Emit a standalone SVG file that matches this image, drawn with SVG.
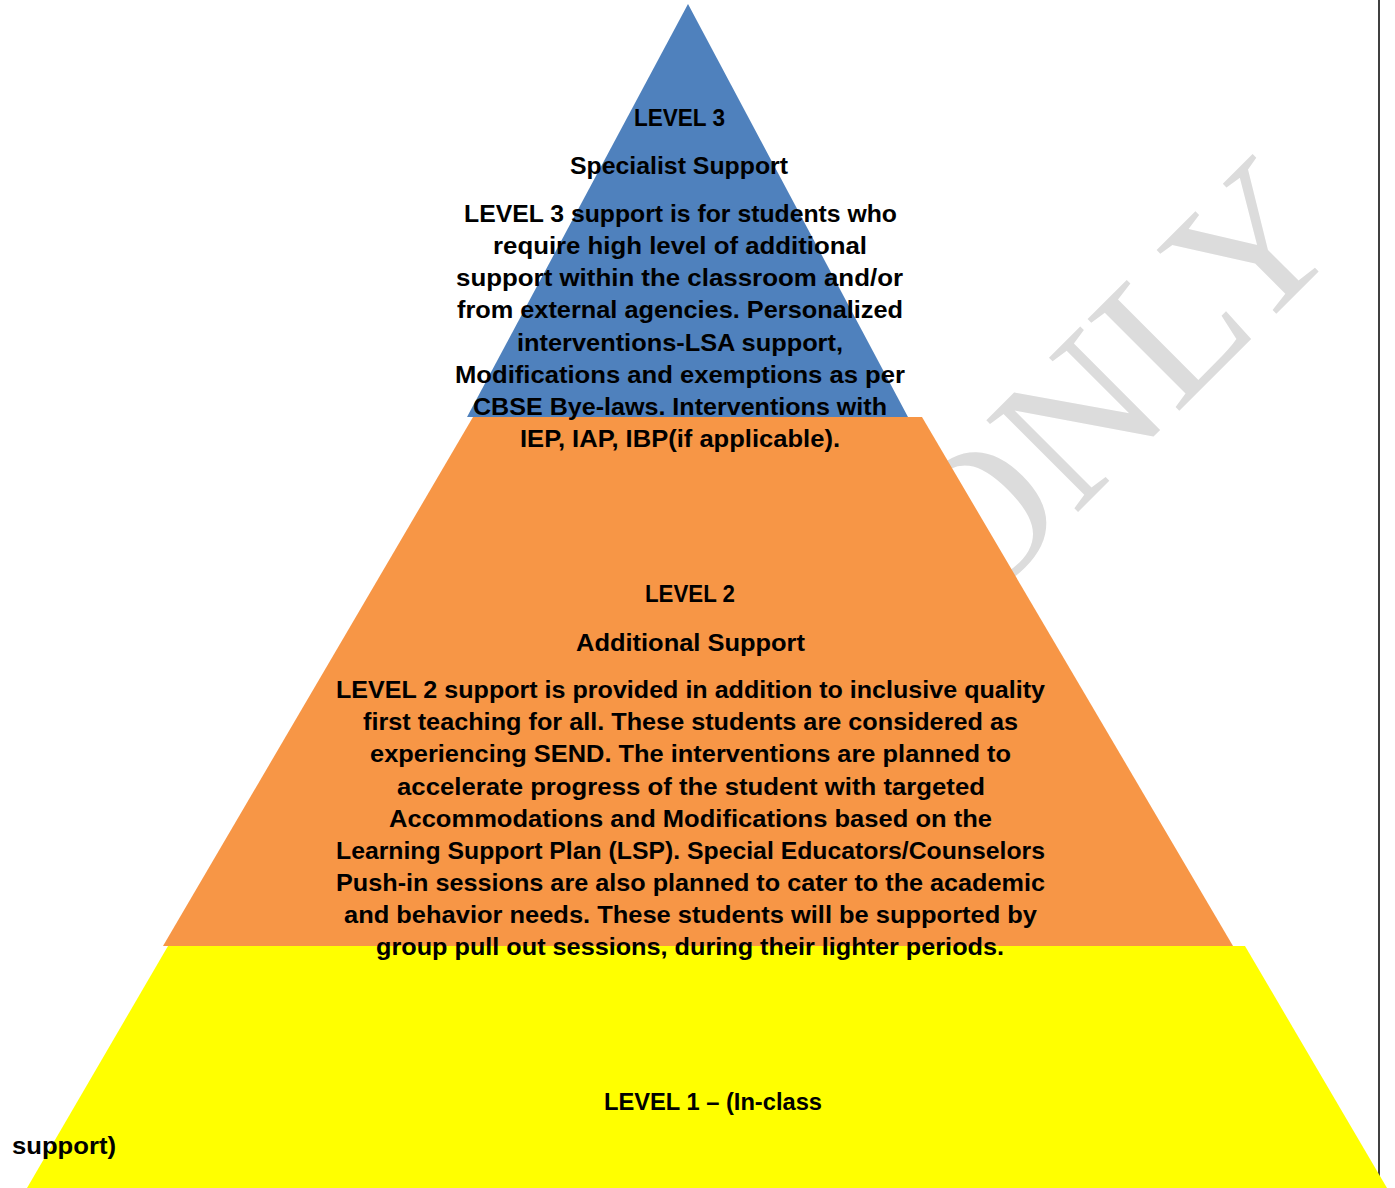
<svg xmlns="http://www.w3.org/2000/svg" width="1395" height="1188" viewBox="0 0 1395 1188">
<style>
.t{font-family:"Liberation Sans",Arial,sans-serif;font-weight:bold;font-size:24.5px;fill:#000;}
.wm{font-family:"Liberation Serif","Times New Roman",serif;font-size:198px;fill:#dcdcdc;}
</style>
<rect width="1395" height="1188" fill="#fff"/>
<g id="watermark">
<text class="wm" transform="translate(973,617) rotate(-45)">ONLY</text>
</g>
<line x1="1379" y1="0" x2="1379" y2="1188" stroke="#000" stroke-width="1.5"/>
<g id="level1">
<polygon points="168,946 1245,946 1387,1188 27,1188" fill="#ffff00"/>
<text class="t" x="604" y="1110" textLength="218" lengthAdjust="spacingAndGlyphs">LEVEL 1 – (In-class</text>
<text class="t" x="12" y="1154" textLength="104" lengthAdjust="spacingAndGlyphs">support)</text>
</g>
<g id="level2">
<polygon points="473,417 922,417 1233,946 163,946" fill="#f79646"/>
<text class="t" x="645" y="602" textLength="90" lengthAdjust="spacingAndGlyphs">LEVEL 2</text>
<text class="t" x="576" y="651" textLength="229" lengthAdjust="spacingAndGlyphs">Additional Support</text>
<text class="t" x="336" y="698" textLength="709" lengthAdjust="spacingAndGlyphs">LEVEL 2 support is provided in addition to inclusive quality</text>
<text class="t" x="363" y="730" textLength="655" lengthAdjust="spacingAndGlyphs">first teaching for all. These students are considered as</text>
<text class="t" x="370" y="762" textLength="641" lengthAdjust="spacingAndGlyphs">experiencing SEND. The interventions are planned to</text>
<text class="t" x="397" y="795" textLength="588" lengthAdjust="spacingAndGlyphs">accelerate progress of the student with targeted</text>
<text class="t" x="389" y="827" textLength="603" lengthAdjust="spacingAndGlyphs">Accommodations and Modifications based on the</text>
<text class="t" x="336" y="859" textLength="709" lengthAdjust="spacingAndGlyphs">Learning Support Plan (LSP). Special Educators/Counselors</text>
<text class="t" x="336" y="891" textLength="709" lengthAdjust="spacingAndGlyphs">Push-in sessions are also planned to cater to the academic</text>
<text class="t" x="344" y="923" textLength="693" lengthAdjust="spacingAndGlyphs">and behavior needs. These students will be supported by</text>
<text class="t" x="376" y="955" textLength="628" lengthAdjust="spacingAndGlyphs">group pull out sessions, during their lighter periods.</text>
</g>
<g id="level3">
<polygon points="688,4 908,417 467,417" fill="#4f81bd"/>
<text class="t" x="634" y="126" textLength="91" lengthAdjust="spacingAndGlyphs">LEVEL 3</text>
<text class="t" x="570" y="174" textLength="218" lengthAdjust="spacingAndGlyphs">Specialist Support</text>
<text class="t" x="464" y="222" textLength="433" lengthAdjust="spacingAndGlyphs">LEVEL 3 support is for students who</text>
<text class="t" x="493" y="254" textLength="374" lengthAdjust="spacingAndGlyphs">require high level of additional</text>
<text class="t" x="456" y="286" textLength="447" lengthAdjust="spacingAndGlyphs">support within the classroom and/or</text>
<text class="t" x="457" y="318" textLength="446" lengthAdjust="spacingAndGlyphs">from external agencies. Personalized</text>
<text class="t" x="517" y="351" textLength="326" lengthAdjust="spacingAndGlyphs">interventions-LSA support,</text>
<text class="t" x="455" y="383" textLength="450" lengthAdjust="spacingAndGlyphs">Modifications and exemptions as per</text>
<text class="t" x="473" y="415" textLength="414" lengthAdjust="spacingAndGlyphs">CBSE Bye-laws. Interventions with</text>
<text class="t" x="520" y="447" textLength="320" lengthAdjust="spacingAndGlyphs">IEP, IAP, IBP(if applicable).</text>
</g>
</svg>
